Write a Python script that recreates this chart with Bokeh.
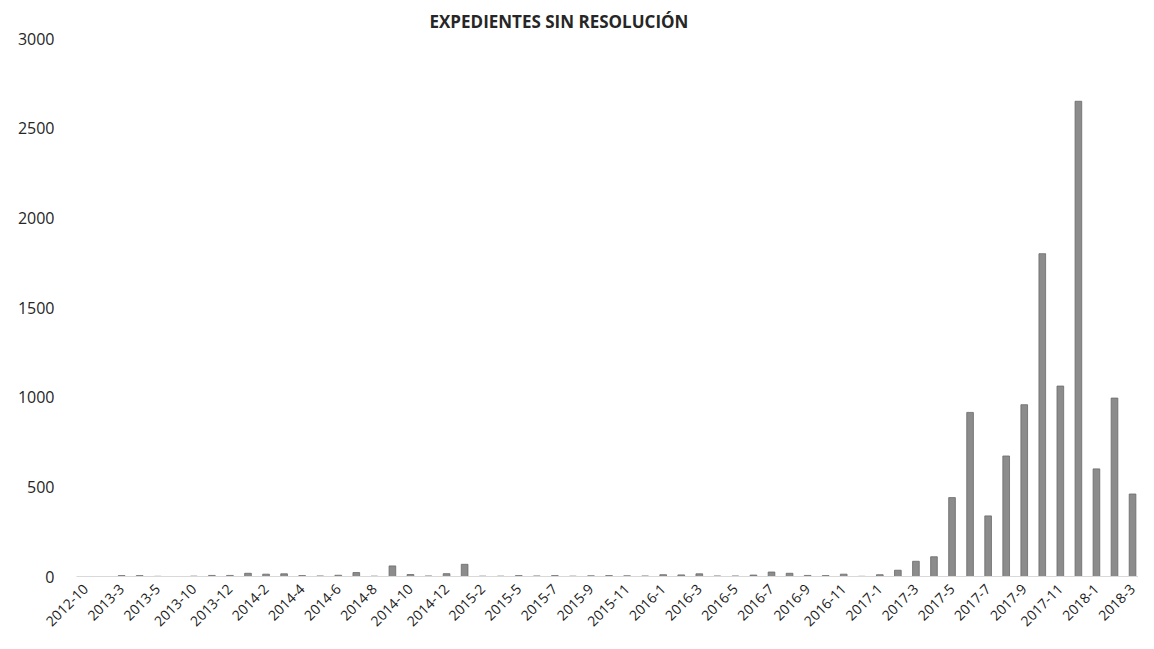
import math
from bokeh.plotting import figure
from bokeh.models import Range1d, FixedTicker, ColumnDataSource, Title
from bokeh.embed import file_html
from bokeh.resources import INLINE

# Categories (year-month); only every other one is labelled on the axis
categories = [
    "2012-10", "2013-1", "2013-3", "2013-4", "2013-5", "2013-7", "2013-10", "2013-11",
    "2013-12", "2014-1", "2014-2", "2014-3", "2014-4", "2014-5", "2014-6", "2014-7",
    "2014-8", "2014-9", "2014-10", "2014-11", "2014-12", "2015-1", "2015-2", "2015-3",
    "2015-5", "2015-6", "2015-7", "2015-8", "2015-9", "2015-10", "2015-11", "2015-12",
    "2016-1", "2016-2", "2016-3", "2016-4", "2016-5", "2016-6", "2016-7", "2016-8",
    "2016-9", "2016-10", "2016-11", "2016-12", "2017-1", "2017-2", "2017-3", "2017-4",
    "2017-5", "2017-6", "2017-7", "2017-8", "2017-9", "2017-10", "2017-11", "2017-12",
    "2018-1", "2018-2", "2018-3",
]

expedientes = [
    0, 0, 5, 5, 1, 0, 2, 6,
    6, 18, 13, 15, 5, 3, 7, 22,
    2, 59, 11, 3, 16, 68, 2, 2,
    5, 3, 5, 2, 4, 5, 4, 3,
    10, 9, 15, 3, 3, 8, 25, 18,
    6, 5, 13, 1, 10, 35, 85, 110,
    440, 915, 338, 672, 958, 1800, 1062, 2650,
    600, 995, 460,
]

y_ticks = [0, 500, 1000, 1500, 2000, 2500, 3000]

idx = list(range(len(categories)))
src = ColumnDataSource(dict(x=idx, top=expedientes, cat=categories))

p = figure(
    width=1138, height=633,
    output_backend="svg", toolbar_location=None,
    x_range=Range1d(-0.5, 58.33), y_range=Range1d(0, 3000),
    min_border_left=76, min_border_right=0, min_border_top=38, min_border_bottom=52,
    background_fill_color="white", border_fill_color="white",
)
p.outline_line_color = None
p.title = None

t = Title(text="EXPEDIENTES SIN RESOLUCIÓN", align="left", offset=353,
          text_font="Open Sans", text_font_size="17px", text_font_style="bold",
          text_color="#262626", standoff=12)
p.add_layout(t, "above")

p.vbar(x="x", top="top", width=0.37, source=src,
       fill_color="#8c8c8c", line_color="#6a6a6a", line_width=0.8)

p.xgrid.grid_line_color = None
p.ygrid.grid_line_color = None

p.xaxis.ticker = FixedTicker(ticks=idx[::2])
p.xaxis.major_label_overrides = {i: categories[i] for i in idx[::2]}
p.xaxis.major_label_orientation = math.pi / 4
p.xaxis.major_tick_line_color = None
p.xaxis.major_tick_out = 0
p.xaxis.major_tick_in = 0
p.xaxis.minor_tick_line_color = None
p.xaxis.axis_line_color = "#d9d9d9"
p.xaxis.major_label_text_font = "Open Sans"
p.xaxis.major_label_text_font_size = "14px"
p.xaxis.major_label_text_color = "#1a1a1a"
p.xaxis.major_label_standoff = 10

p.yaxis.ticker = FixedTicker(ticks=y_ticks)
p.yaxis.axis_line_color = None
p.yaxis.major_tick_line_color = None
p.yaxis.major_tick_out = 0
p.yaxis.major_tick_in = 0
p.yaxis.minor_tick_line_color = None
p.yaxis.major_label_text_font = "Open Sans"
p.yaxis.major_label_text_font_size = "16px"
p.yaxis.major_label_text_color = "#262626"
p.yaxis.major_label_standoff = 22

open("out.html", "w").write(file_html(p, INLINE))
